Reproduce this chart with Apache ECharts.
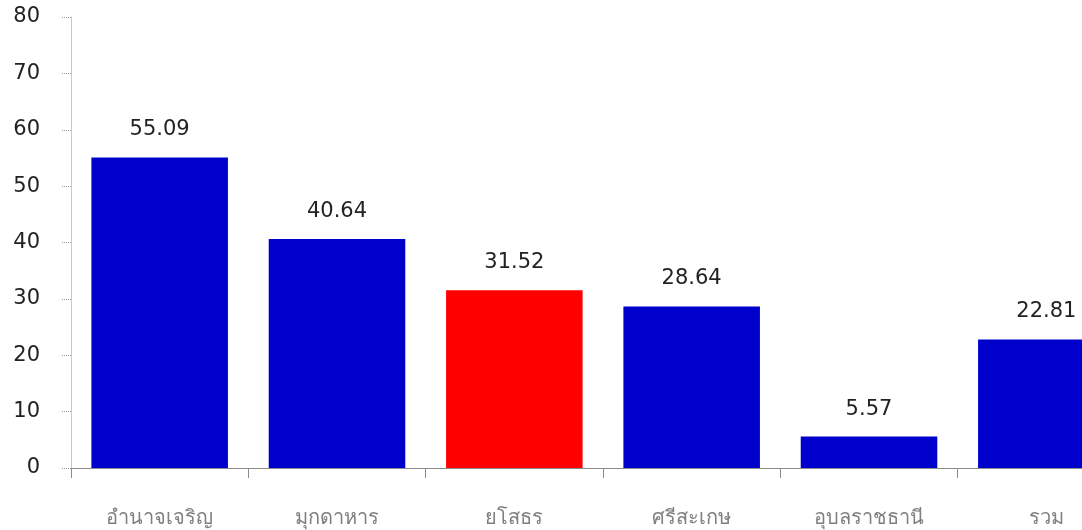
<!DOCTYPE html>
<html><head><meta charset="utf-8">
<script src="https://cdn.jsdelivr.net/npm/echarts@6/dist/echarts.min.js"></script>
<style>html,body{margin:0;padding:0;background:#fff;overflow:hidden;width:1082px;height:530px}#c{width:1136px;height:530px}</style>
</head><body><div id="c"></div>
<script>
const categories = ['อำนาจเจริญ','มุกดาหาร','ยโสธร','ศรีสะเกษ','อุบลราชธานี','รวม'];
const values = [55.09, 40.64, 31.52, 28.64, 5.57, 22.81];
const highlightIndex = 2;
const yTicks = [0,10,20,30,40,50,60,70,80];

const chart = echarts.init(document.getElementById('c'));
chart.setOption({
  animation:false,
  grid:{left:71, top:17, right:1, bottom:62, containLabel:false, outerBoundsMode:'none'},
  xAxis:{type:'category', data:categories,
    axisLine:{lineStyle:{color:'#8c8c8c',width:1}},
    axisTick:{show:true,length:10,lineStyle:{color:'#8c8c8c'}},
    axisLabel:{color:'#7f7f7f',fontSize:20,margin:41,fontFamily:'Tahoma, "DejaVu Sans", sans-serif'}},
  yAxis:{type:'value', min:0, max:80, interval:10,
    axisLine:{show:true,lineStyle:{color:'#c8c8c8'}},
    axisTick:{show:true,length:10,lineStyle:{color:'#999',type:'dotted'}},
    splitLine:{show:false},
    axisLabel:{color:'#222',fontSize:21,margin:31,padding:[7,0,0,0],fontFamily:'Tahoma, "DejaVu Sans", sans-serif',
      formatter:v=>yTicks.includes(v)?String(v):''}},
  series:[{type:'bar', barWidth:'77%',
    data:values.map((v,i)=>({value:v,itemStyle:{color:i===highlightIndex?'#ff0000':'#0000cc'}})),
    label:{show:true,position:'top',distance:17,color:'#222',fontSize:21,
      fontFamily:'Tahoma, "DejaVu Sans", sans-serif',formatter:p=>p.value.toFixed(2)}}]
});
</script></body></html>
